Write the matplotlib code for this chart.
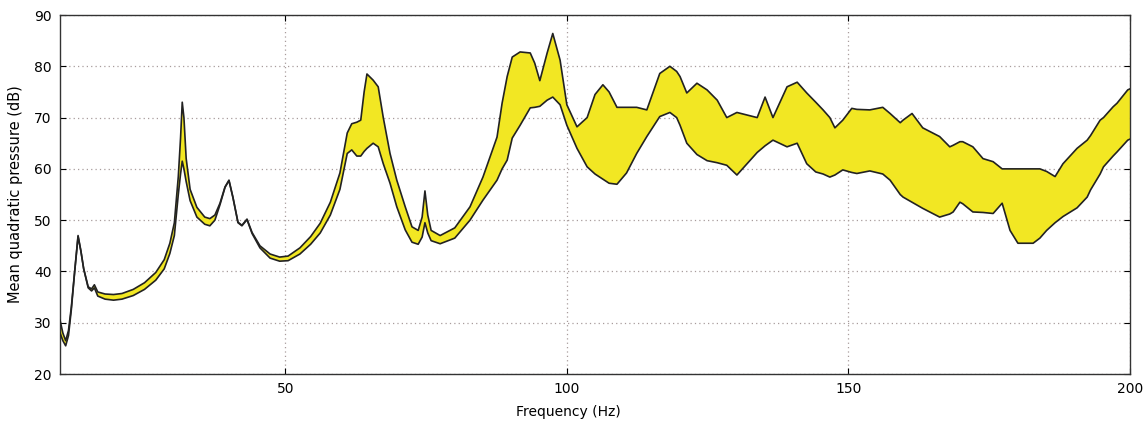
"""Mean quadratic pressure envelope vs frequency (yellow band between min/max curves)."""
import matplotlib

matplotlib.use("Agg")
import matplotlib.pyplot as plt

# frequency grid (Hz) and the upper / lower envelope (dB)
FREQ = [
    10.0, 10.5, 11.0, 11.5, 12.0, 12.6, 13.2, 13.7, 14.2, 15.0,
    15.6, 16.1, 16.7, 18.0, 19.5, 21.0, 23.0, 25.0, 27.0, 28.5,
    29.5, 30.3, 31.0, 31.4, 31.7, 32.0, 32.4, 33.1, 34.3, 35.7,
    36.6, 37.5, 38.4, 39.3, 40.0, 40.7, 41.6, 42.3, 43.2, 44.1,
    45.5, 47.3, 49.0, 50.5, 52.6, 54.5, 56.2, 58.0, 59.7, 61.0,
    61.8, 62.7, 63.4, 64.0, 64.5, 65.6, 66.5, 67.4, 68.6, 69.8,
    71.3, 72.5, 73.6, 74.3, 74.8, 75.3, 75.9, 77.5, 80.1, 82.8,
    85.1, 87.6, 88.5, 89.4, 90.3, 91.7, 93.5, 94.3, 95.2, 96.5,
    97.5, 98.8, 100.0, 101.8, 103.6, 105.0, 106.4, 107.5, 108.9, 110.6,
    112.4, 114.2, 116.5, 118.3, 119.5, 120.1, 121.3, 123.1, 124.9, 126.7,
    128.4, 130.2, 132.0, 133.8, 135.2, 136.6, 139.1, 140.9, 142.6, 144.2,
    145.5, 146.7, 147.6, 149.0, 150.6, 151.5, 153.8, 156.1, 157.4, 159.2,
    159.7, 161.3, 163.2, 165.7, 166.2, 168.0, 168.6, 169.8, 170.3, 172.1,
    173.9, 175.7, 177.3, 178.7, 180.1, 182.8, 184.0, 185.2, 186.7, 188.1,
    190.6, 192.4, 193.0, 194.7, 195.3, 197.0, 197.7, 199.6, 200.0,
]
UPPER = [
    30.5, 28.0, 26.5, 28.5, 33.0, 40.0, 47.0, 44.0, 40.5, 37.0,
    36.6, 37.4, 36.0, 35.6, 35.5, 35.7, 36.5, 37.8, 39.8, 42.3,
    45.5, 49.5, 58.5, 66.0, 73.0, 70.0, 62.0, 56.0, 52.5, 50.6,
    50.3, 51.0, 53.3, 56.5, 57.8, 54.5, 49.6, 49.0, 50.2, 47.6,
    45.0, 43.4, 42.8, 43.0, 44.6, 46.8, 49.4, 53.5, 59.2, 67.0,
    68.8, 69.1, 69.5, 75.0, 78.5, 77.3, 76.0, 70.0, 63.0, 57.8,
    52.6, 48.7, 48.0, 50.6, 55.7, 51.0, 48.0, 47.0, 48.5, 52.6,
    58.4, 66.2, 72.8, 78.0, 81.8, 82.8, 82.6, 80.6, 77.2, 82.6,
    86.4, 81.2, 72.5, 68.2, 70.0, 74.5, 76.4, 75.0, 72.0, 72.0,
    72.0, 71.5, 78.6, 80.0, 79.0, 78.0, 74.8, 76.7, 75.4, 73.4,
    70.0, 71.0, 70.5, 70.0, 74.0, 70.0, 76.0, 76.9, 74.8, 73.0,
    71.5, 70.0, 68.0, 69.5, 71.8, 71.6, 71.5, 72.0, 70.8, 69.0,
    69.5, 70.8, 68.0, 66.6, 66.3, 64.3, 64.6, 65.3, 65.3, 64.3,
    62.0, 61.4, 60.0, 60.0, 60.0, 60.0, 60.0, 59.5, 58.5, 61.0,
    64.0, 65.6, 66.5, 69.5, 70.0, 72.1, 72.8, 75.4, 75.6,
]
LOWER = [
    28.0, 26.5, 25.5, 27.5, 32.5, 40.0, 46.8, 44.0, 40.5, 36.8,
    36.2, 36.8, 35.2, 34.6, 34.4, 34.6, 35.3, 36.5, 38.3, 40.5,
    43.5, 47.0, 55.0, 59.0, 61.5, 60.0, 57.5, 53.8, 50.6, 49.2,
    48.9, 50.0, 53.0, 56.4, 57.7, 54.4, 49.5, 48.9, 50.1, 47.4,
    44.6, 42.6, 42.0, 42.1, 43.4, 45.3, 47.5, 51.0, 56.0, 63.0,
    63.7, 62.5, 62.5, 63.4, 64.0, 65.0, 64.3, 61.0, 57.2, 52.6,
    48.1, 45.7, 45.3, 46.7, 49.5, 47.5, 46.0, 45.4, 46.5, 50.0,
    53.9, 57.8, 60.0, 61.7, 66.0, 68.5, 71.9, 72.0, 72.2, 73.4,
    74.0, 72.5, 68.5, 64.0, 60.4, 59.0, 58.0, 57.2, 57.0, 59.2,
    63.0, 66.3, 70.2, 71.0, 70.0, 68.5, 65.0, 62.8, 61.6, 61.2,
    60.7, 58.8, 61.0, 63.2, 64.5, 65.6, 64.3, 65.0, 61.0, 59.4,
    59.0, 58.4, 58.8, 59.8, 59.3, 59.1, 59.6, 59.0, 57.8, 55.0,
    54.5, 53.5, 52.3, 50.9, 50.6, 51.2, 51.6, 53.5, 53.2, 51.6,
    51.5, 51.3, 53.3, 48.0, 45.5, 45.5, 46.5, 48.0, 49.5, 50.7,
    52.4, 54.5, 55.9, 59.0, 60.4, 62.5, 63.3, 65.6, 65.8,
]

X_TICKS = [50, 100, 150, 200]
Y_TICKS = [20, 30, 40, 50, 60, 70, 80, 90]

BAND_COLOR = "#f2e723"


def main() -> None:
    plt.rcParams["font.family"] = ["DejaVu Sans"]

    fig = plt.figure(figsize=(11.48, 4.23), dpi=100)
    ax = fig.add_axes([0.0523, 0.1158, 0.9320, 0.8487])

    ax.fill_between(FREQ, LOWER, UPPER, facecolor=BAND_COLOR, edgecolor="none", zorder=2)
    ax.plot(FREQ, UPPER, color="#222222", linewidth=1.2, zorder=3)
    ax.plot(FREQ, LOWER, color="#222222", linewidth=1.2, zorder=3)

    ax.set_xlim(10, 200)
    ax.set_ylim(20, 90)
    ax.set_xticks(X_TICKS)
    ax.set_yticks(Y_TICKS)
    ax.tick_params(direction="in", top=True, right=True, length=4, labelsize=10, pad=6)
    ax.grid(True, linestyle=(0, (1, 2.5)), color="#a89c9c", linewidth=0.9, zorder=0)
    for spine in ax.spines.values():
        spine.set_color("#333333")
        spine.set_linewidth(1.0)

    ax.set_xlabel("Frequency (Hz)", fontsize=10)
    ax.set_ylabel("Mean quadratic pressure (dB)", fontsize=10.5, labelpad=8)
    ax.xaxis.set_label_coords(0.475, -0.085)

    fig.savefig("out.png", dpi=100)


if __name__ == "__main__":
    main()
